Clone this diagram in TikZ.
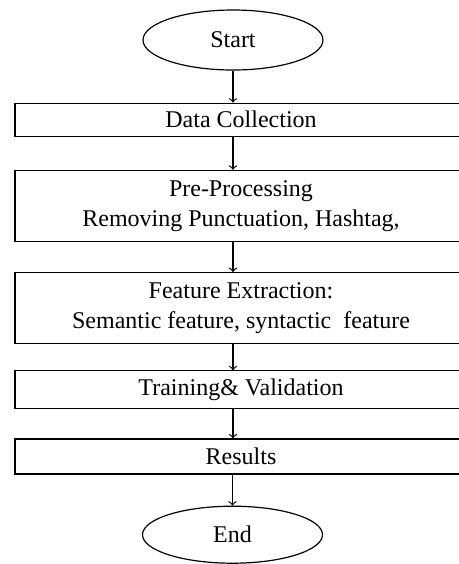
\documentclass[tikz,border=0pt]{standalone}
\usepackage{fontspec}
\setmainfont{Liberation Serif}
\usepackage{tikz}
\usetikzlibrary{shapes.geometric,arrows,positioning}
\tikzset{
terminal/.style = {draw, fill=white, ellipse, minimum width=90pt, minimum height=30pt, inner sep=0pt},
block/.style = {draw, fill=white, rectangle, align=center, minimum width=226pt, inner sep=1pt},
}

\begin{document}
\begin{tikzpicture}[auto, node distance=16pt, >=to, line width=0.6pt, font=\fontsize{12}{15}\selectfont]
    \useasboundingbox (0,0) rectangle (229.5pt,-282pt);
    \node [terminal] (start) at (116.5pt,-20pt) {Start};
    \node [block, minimum height=16.5pt, below=16pt of start, xshift=4pt] (data) {Data Collection};
    \node [block, minimum height=35.5pt, below=16.5pt of data] (pre) {Pre-Processing\\Removing Punctuation, Hashtag,};
    \node [block, minimum height=35.5pt, below=15pt of pre] (feat) {Feature Extraction:\\Semantic feature, syntactic\ \ feature};
    \node [block, minimum height=19pt, below=13pt of feat] (train) {Training\&\ Validation};
    \node [block, minimum height=17.5pt, below=14.5pt of train] (res) {Results};
    \node [terminal, minimum height=28.5pt, below=15.5pt of res, xshift=-4.25pt] (endn) {End};

    \draw [->] (start.south) -- (start.south |- data.north);
    \foreach \a/\b in {data/pre, pre/feat, feat/train, train/res}
      \draw [->] (\a.south -| start) -- (\b.north -| start);
    \draw [->] (res.south -| endn) -- (endn.north);
\end{tikzpicture}
\end{document}
